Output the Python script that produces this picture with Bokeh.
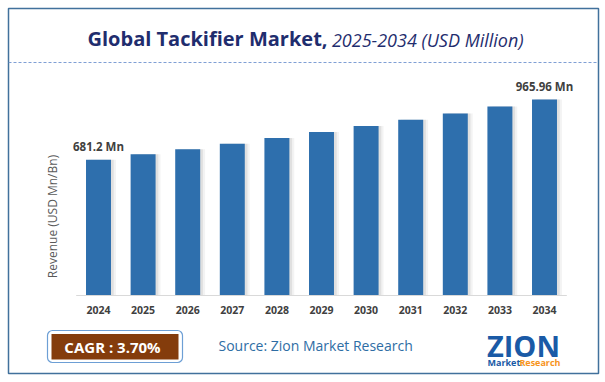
import math
from bokeh.plotting import figure
from bokeh.models import Range1d, Span, Label, BoxAnnotation, ColumnDataSource
from bokeh.core.properties import value
from bokeh.transform import dodge
from bokeh.embed import file_html
from bokeh.resources import INLINE

# ---------------- data ----------------
years = [2024, 2025, 2026, 2027, 2028, 2029, 2030, 2031, 2032, 2033, 2034]
year_labels = [str(y) for y in years]
revenue = [681.2, 707.0, 731.5, 756.5, 784.0, 812.5, 841.0, 870.5, 899.5, 932.5, 965.96]
value_labels = ["681.2 Mn", "965.96 Mn"]
title_main = "Global Tackifier Market,"
title_sub = "2025-2034 (USD Million)"
y_title = "Revenue (USD Mn/Bn)"
cagr_text = "CAGR : 3.70%"
source_text = "Source: Zion Market Research"

# ---------------- geometry ----------------
CW, CH = 605, 382          # canvas
FL, FT = 8, 8              # frame offset (border position)
FW, FH = 590, 365          # frame = bordered box
PX_PER_YEAR = 44.6
FIRST_CENTER = 98.0
BASE_PAGE_Y = 295.0
AXIS_MIN = 40.5
PX_PER_UNIT = 0.2118
BAR_W = 0.56
MID = 0.388                # middle of text box above alphabetic baseline (em)

x_start = years[0] - (FIRST_CENTER - FL) / PX_PER_YEAR
x_end = x_start + FW / PX_PER_YEAR
y_start = AXIS_MIN - (FT + FH - BASE_PAGE_Y) / PX_PER_UNIT
y_end = AXIS_MIN + (BASE_PAGE_Y - FT) / PX_PER_UNIT


def dx(px):
    return x_start + (px - FL) / PX_PER_YEAR


def dy(py):
    return AXIS_MIN + (BASE_PAGE_Y - py) / PX_PER_UNIT


def base(py, size):
    """y of a middle-anchored text whose baseline should sit at page y py"""
    return dy(py - MID * size)


FONT = "Open Sans"

p = figure(width=CW, height=CH, x_range=Range1d(x_start, x_end), y_range=Range1d(y_start, y_end),
           x_axis_type=None, y_axis_type=None, toolbar_location=None, output_backend="svg",
           min_border_left=FL, min_border_top=FT, min_border_right=CW - FL - FW,
           min_border_bottom=CH - FT - FH)
p.outline_line_color = "#41719c"
p.outline_line_width = 1.5
p.background_fill_color = "white"
p.border_fill_color = "white"

src = ColumnDataSource(dict(x=years, top=revenue, label=year_labels))

# shadows
p.vbar(x=dodge("x", 0.11), top="top", bottom=AXIS_MIN, width=BAR_W, fill_color="#8a8a8a",
       fill_alpha=0.10, line_color=None, source=src)
p.vbar(x=dodge("x", 0.06), top="top", bottom=AXIS_MIN, width=BAR_W, fill_color="#8a8a8a",
       fill_alpha=0.18, line_color=None, source=src)
# bars
p.vbar(x="x", top="top", bottom=AXIS_MIN, width=BAR_W, fill_color="#2e6fad", line_color=None, source=src)

# baseline
p.segment(x0=[years[0] - 0.5], y0=[AXIS_MIN], x1=[years[-1] + 0.5], y1=[AXIS_MIN],
          line_color="#d9d9d9", line_width=1)

# category labels
p.text(x="x", y=AXIS_MIN, text="label", source=src, y_offset=18.5 - MID * 10.5, text_align="center",
       text_baseline="middle", text_font=value(FONT), text_font_style="bold",
       text_font_size="10.5px", text_color="#404040")

# value labels
vsrc = ColumnDataSource(dict(x=[years[0], years[-1]], top=[revenue[0], revenue[-1]], text=value_labels))
p.text(x="x", y="top", text="text", source=vsrc, y_offset=-8.8 - MID * 11.5, text_align="center",
       text_baseline="middle", text_font=value(FONT), text_font_style="bold",
       text_font_size="11.5px", text_color="#404040")

# title
p.add_layout(Label(x=dx(87), y=base(46, 20), text=title_main, text_align="left", text_baseline="middle",
                   text_font=FONT, text_font_style="bold", text_font_size="20px", text_color="#1f2d6e"))
p.add_layout(Label(x=dx(523), y=base(46, 18), text=title_sub, text_align="right", text_baseline="middle",
                   text_font=FONT, text_font_style="italic", text_font_size="18px", text_color="#1f2d6e"))

# dashed separator
p.add_layout(Span(location=dy(62), dimension="width", line_color="#7f9fd4", line_width=1.2,
                  line_dash="3 2"))

# y title
p.add_layout(Label(x=dx(51.7), y=dy(216), text=y_title, angle=math.pi / 2, text_align="center",
                   text_baseline="middle", text_font=FONT, text_font_size="12px", text_color="#595959"))

# CAGR box
p.add_layout(BoxAnnotation(left=dx(47), right=dx(182), top=dy(330), bottom=dy(362),
                           fill_color="white", fill_alpha=1, line_color="#6d9fd5", line_alpha=1,
                           line_width=1.2, border_radius=5))
p.add_layout(BoxAnnotation(left=dx(51), right=dx(178), top=dy(333.5), bottom=dy(359),
                           fill_color="#843c0c", fill_alpha=1, line_color=None))
p.add_layout(Label(x=dx(112), y=base(352, 15), text=cagr_text, text_align="center", text_baseline="middle",
                   text_font=FONT, text_font_style="bold", text_font_size="15px", text_color="white"))

# source
p.add_layout(Label(x=dx(218), y=base(350, 14), text=source_text, text_align="left", text_baseline="middle",
                   text_font=FONT, text_font_size="14px", text_color="#2e6da4"))

# logo
p.add_layout(Label(x=dx(523), y=base(356.5, 29), text="ZION", text_align="center", text_baseline="middle",
                   text_font=FONT, text_font_style="bold", text_font_size="29px", text_color="#1a5aa6"))
p.add_layout(Label(x=dx(487), y=base(365, 9), text="Market.", text_align="left", text_baseline="middle",
                   text_font=FONT, text_font_style="bold", text_font_size="9px", text_color="#1a5aa6"))
p.add_layout(Label(x=dx(560), y=base(365, 9), text="Research", text_align="right", text_baseline="middle",
                   text_font=FONT, text_font_style="bold", text_font_size="9px", text_color="#f7941d"))

open("out.html", "w").write(file_html(p, INLINE))
